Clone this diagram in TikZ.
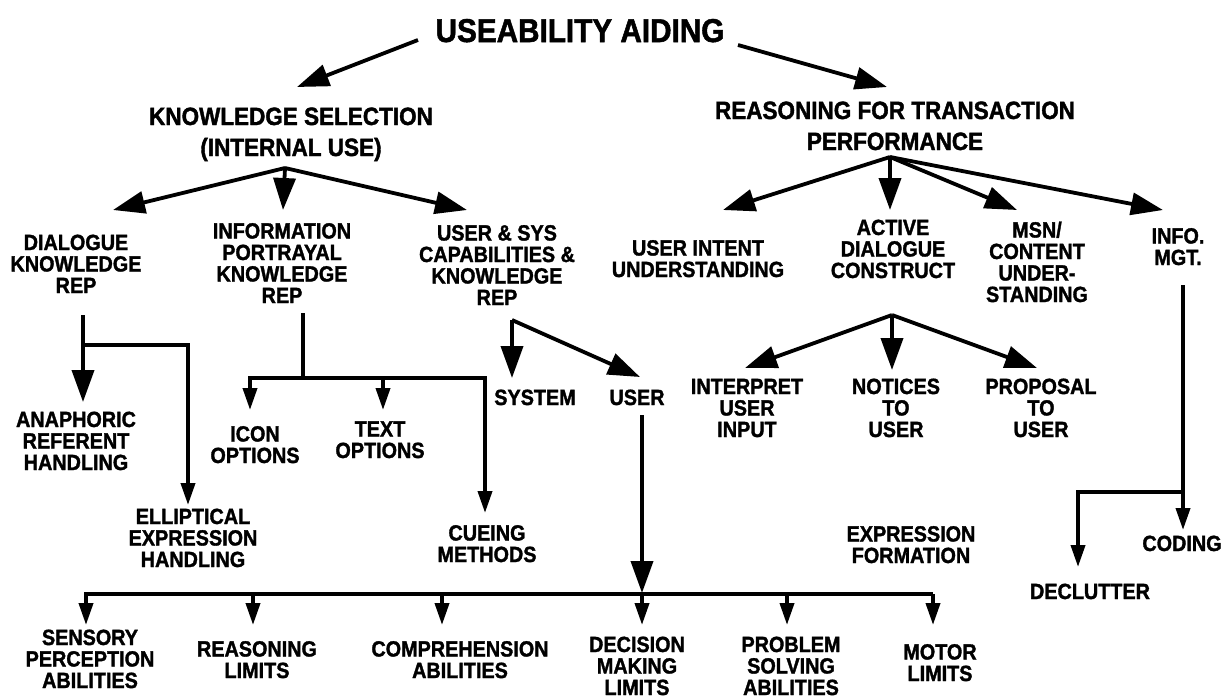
\documentclass[tikz,border=0pt]{standalone}
\usepackage{fontspec}
\setmainfont{Liberation Sans}[FakeStretch=0.9, BoldFeatures={FakeBold=1.5}]
\usetikzlibrary{arrows.meta}
\begin{document}
\begin{tikzpicture}[x=1pt,y=-1pt,
  lab/.style={font=\bfseries\fontsize{22}{21.5}\selectfont, align=center, inner sep=0pt, anchor=base},
  lab1/.style={lab, font=\bfseries\fontsize{25}{31}\selectfont},
  ttl/.style={lab, font=\bfseries\fontsize{33}{36}\selectfont},
  conn/.style={line width=3.8pt},
  big/.style={conn, -{Triangle[length=32pt,width=22pt]}},
  small/.style={conn, -{Triangle[length=22pt,width=14pt]}},
]
\fill[white] (0,0) rectangle (1225,699);
\useasboundingbox (0,0) rectangle (1225,699);

% nodes (positions are the baselines of the last lines)
\node[ttl] (title) at (580,42) {USEABILITY AIDING};
\node[lab1] (ks) at (291,156) {KNOWLEDGE SELECTION\\(INTERNAL USE)};
\node[lab1] (rt) at (895,150) {REASONING FOR TRANSACTION\\PERFORMANCE};
\node[lab] (dkr) at (76,293) {DIALOGUE\\KNOWLEDGE\\REP};
\node[lab] (ipkr) at (282,303) {INFORMATION\\PORTRAYAL\\KNOWLEDGE\\REP};
\node[lab] (usck) at (497,305) {USER \& SYS\\CAPABILITIES \&\\KNOWLEDGE\\REP};
\node[lab] (uiu) at (698,277) {USER INTENT\\UNDERSTANDING};
\node[lab] (adc) at (893,278) {ACTIVE\\DIALOGUE\\CONSTRUCT};
\node[lab] (msn) at (1037,302) {MSN/\\CONTENT\\UNDER-\\STANDING};
\node[lab] (info) at (1178,265) {INFO.\\MGT.};
\node[lab] (anap) at (76,470) {ANAPHORIC\\REFERENT\\HANDLING};
\node[lab] (ellip) at (193,567) {ELLIPTICAL\\EXPRESSION\\HANDLING};
\node[lab] (icon) at (255,463) {ICON\\OPTIONS};
\node[lab] (text) at (380,458) {TEXT\\OPTIONS};
\node[lab] (cue) at (487,562) {CUEING\\METHODS};
\node[lab] (sys) at (535,405) {SYSTEM};
\node[lab] (user) at (637,405) {USER};
\node[lab] (interp) at (747,437) {INTERPRET\\USER\\INPUT};
\node[lab] (notice) at (896,437) {NOTICES\\TO\\USER};
\node[lab] (prop) at (1041,437) {PROPOSAL\\TO\\USER};
\node[lab] (expr) at (911,563) {EXPRESSION\\FORMATION};
\node[lab] (coding) at (1182,551) {CODING};
\node[lab] (declut) at (1090,599) {DECLUTTER};
\node[lab] (sens) at (90,688) {SENSORY\\PERCEPTION\\ABILITIES};
\node[lab] (reas) at (257,678) {REASONING\\LIMITS};
\node[lab] (comp) at (460,678) {COMPREHENSION\\ABILITIES};
\node[lab] (dec) at (637,695) {DECISION\\MAKING\\LIMITS};
\node[lab] (prob) at (791,695) {PROBLEM\\SOLVING\\ABILITIES};
\node[lab] (motor) at (940,681) {MOTOR\\LIMITS};

% connector points
\coordinate (title-l) at (418,40);   \coordinate (ks-in) at (297,87);
\coordinate (title-r) at (738,45);   \coordinate (rt-in) at (887,87);
\coordinate (ks-out) at (285,168);
\coordinate (dkr-in) at (113,210); \coordinate (ipkr-in) at (283,210); \coordinate (usck-in) at (467,210);
\coordinate (rt-out) at (890,157);
\coordinate (uiu-in) at (723,210); \coordinate (adc-in) at (890,210);
\coordinate (msn-in) at (1017,210); \coordinate (info-in) at (1163,210);
\coordinate (dkr-out) at (83,315); \coordinate (dkr-j) at (83,345);
\coordinate (anap-in) at (83,402); \coordinate (ellip-in) at (188,505);
\coordinate (ipkr-out) at (303,313); \coordinate (ipkr-j) at (303,378);
\coordinate (icon-in) at (250,410); \coordinate (text-in) at (383,410); \coordinate (cue-in) at (485,513);
\coordinate (usck-out) at (512,320);
\coordinate (sys-in) at (512,378); \coordinate (user-in) at (640,377);
\coordinate (user-out) at (642,415); \coordinate (bus-in) at (642,593);
\coordinate (busL) at (86,594); \coordinate (busR) at (933,594);
\coordinate (sens-in) at (86,625); \coordinate (reas-in) at (253,625);
\coordinate (comp-in) at (442,625); \coordinate (dec-in) at (642,625);
\coordinate (prob-in) at (787,625); \coordinate (motor-in) at (933,625);
\coordinate (adc-out) at (892,315);
\coordinate (interp-in) at (745,368); \coordinate (notice-in) at (892,370); \coordinate (prop-in) at (1037,368);
\coordinate (info-out) at (1183,285); \coordinate (info-j) at (1183,492);
\coordinate (coding-in) at (1183,530); \coordinate (declut-in) at (1078,567);

% connectors
\draw[big] (title-l) -- (ks-in);
\draw[big] (title-r) -- (rt-in);
\foreach \t in {dkr-in,ipkr-in,usck-in} \draw[big] (ks-out) -- (\t);
\foreach \t in {uiu-in,adc-in,msn-in,info-in} \draw[big] (rt-out) -- (\t);
\draw[big] (dkr-out) -- (anap-in);
\draw[small] (dkr-j) -| (ellip-in);
\draw[conn] (ipkr-out) -- (ipkr-j);
\draw[small] (ipkr-j) -| (icon-in);
\draw[small] (ipkr-j) -| (cue-in);
\draw[small] (text-in |- ipkr-j) -- (text-in);
\draw[big] (usck-out) -- (sys-in);
\draw[big] (usck-out) -- (user-in);
\draw[big] (user-out) -- (bus-in);
\draw[small] (busR) -- (busL) -- (sens-in);
\draw[small] (busR) -- (motor-in);
\foreach \t in {reas-in,comp-in,dec-in,prob-in} \draw[small] (\t |- busL) -- (\t);
\foreach \t in {interp-in,notice-in,prop-in} \draw[big] (adc-out) -- (\t);
\draw[small] (info-out) -- (coding-in);
\draw[small] (info-j) -| (declut-in);
\end{tikzpicture}
\end{document}
